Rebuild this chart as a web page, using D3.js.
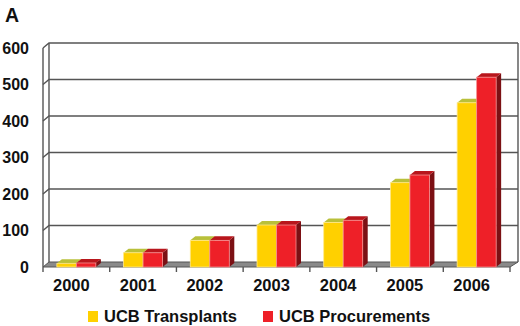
<!DOCTYPE html>
<html><head><meta charset="utf-8">
<script src="https://cdn.jsdelivr.net/npm/d3@7"></script>
<style>body{margin:0;background:#fff}svg{display:block}text{font-family:"Liberation Sans",Arial,sans-serif;font-weight:bold;fill:#111}</style>
</head><body><svg id="c" width="520" height="326"></svg>
<script>
const years = ["2000","2001","2002","2003","2004","2005","2006"];
const transplants = [10, 39, 73, 115, 122, 231, 450];
const procurements = [11, 39, 73, 115, 128, 252, 520];
const yTicks = [0,100,200,300,400,500,600];
const seriesNames = ["UCB Transplants","UCB Procurements"];

const svg = d3.select("#c");
const x = d3.scaleBand().domain(years).range([43,510]).paddingInner(0).paddingOuter(0);
const y = d3.scaleLinear().domain([0,600]).range([267,48]);
const DX = 6, DY = -5;   // wall depth
const BX = 5, BY = -4;   // bar depth
const barW = 19.5;

// floor
const x0 = x.range()[0], x1 = x.range()[1];
svg.append("path").attr("d",`M${x0},${y(0)}L${x0+DX},${y(0)+DY}L${x1+DX+2},${y(0)+DY}L${x1},${y(0)}Z`)
  .attr("fill","#8a8a8a").attr("stroke","#555").attr("stroke-width",1);
// walls
const g = svg.append("g").attr("stroke","#555").attr("stroke-width",1.4).attr("fill","none");
g.append("line").attr("x1",x0).attr("x2",x0).attr("y1",y(600)).attr("y2",y(0));
g.append("line").attr("x1",x0+DX).attr("x2",x0+DX).attr("y1",y(600)+DY).attr("y2",y(0)+DY);
g.append("line").attr("x1",x1+DX+2).attr("x2",x1+DX+2).attr("y1",y(600)+DY).attr("y2",y(0)+DY);
yTicks.filter(v=>v>0).forEach(v=>{
  g.append("path").attr("d",`M${x0},${y(v)}L${x0+DX},${y(v)+DY}L${x1+DX+2},${y(v)+DY}`);
});
// x ticks
years.forEach((yr,i)=>{
  g.append("line").attr("x1",x(yr)).attr("x2",x(yr)).attr("y1",y(0)).attr("y2",y(0)+5);
});
g.append("line").attr("x1",x1).attr("x2",x1).attr("y1",y(0)).attr("y2",y(0)+5);

// bars
function bar(xl, v, front, top, side, edge){
  const yt = y(v), yb = y(0);
  const gb = svg.append("g");
  gb.append("path").attr("d",`M${xl+barW},${yt}L${xl+barW+BX},${yt+BY}L${xl+barW+BX},${yb+BY}L${xl+barW},${yb}Z`).attr("fill",side);
  gb.append("path").attr("d",`M${xl},${yt}L${xl+BX},${yt+BY}L${xl+barW+BX},${yt+BY}L${xl+barW},${yt}Z`).attr("fill",top);
  gb.append("rect").attr("x",xl).attr("y",yt).attr("width",barW).attr("height",yb-yt).attr("fill",front)
    .attr("stroke",edge).attr("stroke-width",0.8);
}
years.forEach((yr,i)=>{
  const c = x(yr) + x.bandwidth()/2;
  bar(c-barW, transplants[i], "#FFD000", "#B9C03A", "#C9A000", "#FFE98A");
  bar(c, procurements[i], "#EE2028", "#B8161C", "#7C1014", "#F59090");
});

// y labels
svg.append("g").selectAll("text").data(yTicks).join("text")
  .attr("x",29).attr("y",d=>y(d)).attr("dy","0.36em").attr("text-anchor","end")
  .style("font-size","16px").text(d=>d);
// x labels
svg.append("g").selectAll("text").data(years).join("text")
  .attr("x",d=>x(d)+x.bandwidth()/2-5).attr("y",291).attr("text-anchor","middle")
  .style("font-size","16.5px").text(d=>d);
// title
svg.append("text").attr("x",5).attr("y",22).style("font-size","19.5px").text("A");
// legend
const leg = [{n:seriesNames[0],c:"#FFD000",x:88},{n:seriesNames[1],c:"#EE2028",x:263}];
leg.forEach(l=>{
  svg.append("rect").attr("x",l.x).attr("y",311).attr("width",10).attr("height",11).attr("fill",l.c);
  svg.append("text").attr("x",l.x+16).attr("y",322).style("font-size","16.5px").text(l.n);
});
</script></body></html>
